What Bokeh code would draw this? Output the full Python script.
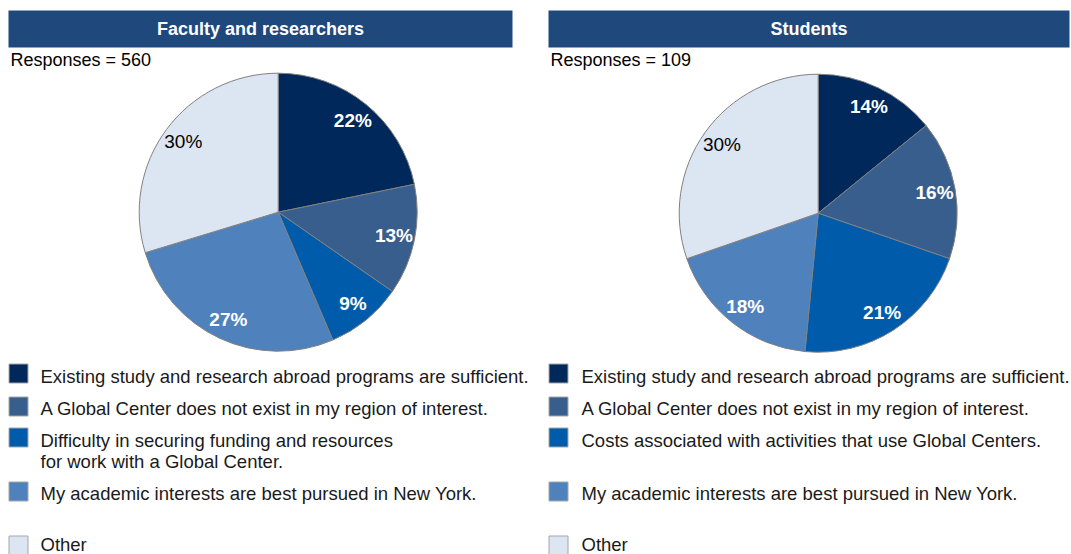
import math
from bokeh.plotting import figure
from bokeh.models import Range1d, ColumnDataSource
from bokeh.core.properties import value
from bokeh.embed import file_html
from bokeh.resources import INLINE

# ---------------- data ----------------
panel_titles = ["Faculty and researchers", "Students"]
responses = [560, 109]
faculty_values = [22, 13, 9, 27, 30]
student_values = [14, 16, 21, 18, 30]
faculty_labels = [
    "Existing study and research abroad programs are sufficient.",
    "A Global Center does not exist in my region of interest.",
    "Difficulty in securing funding and resources\nfor work with a Global Center.",
    "My academic interests are best pursued in New York.",
    "Other",
]
student_labels = [
    "Existing study and research abroad programs are sufficient.",
    "A Global Center does not exist in my region of interest.",
    "Costs associated with activities that use Global Centers.",
    "My academic interests are best pursued in New York.",
    "Other",
]
slice_colors = ["#00285A", "#385E8D", "#005CAA", "#4F81BD", "#DCE6F2"]

# ---------------- layout ----------------
W, H = 1071, 554
FONT = value("Liberation Sans")


def X(xs):
    return xs


def Y(ys):
    return H - ys


p = figure(width=W, height=H, output_backend="svg", toolbar_location=None,
           x_range=Range1d(0, W), y_range=Range1d(0, H), min_border=0)
p.axis.visible = False
p.grid.visible = False
p.outline_line_color = None
p.background_fill_color = "white"

panels = [
    dict(title=panel_titles[0], n=responses[0], vals=faculty_values, labels=faculty_labels,
         bar=(8, 512), cx=277.7, cy=211.7, lx=8, ltx=40,
         rows=[376, 408, 450, 493, 544], sq=[373, 406, 437, 491, 545]),
    dict(title=panel_titles[1], n=responses[1], vals=student_values, labels=student_labels,
         bar=(548, 1069), cx=817.7, cy=212.7, lx=548, ltx=581,
         rows=[376, 408, 440, 493, 544], sq=[373, 406, 437, 491, 545]),
]
R = 139
LR = 0.85 * R

for pn in panels:
    # header bar
    x0, x1 = pn["bar"]
    p.quad(left=[X(x0)], right=[X(x1)], top=[Y(10)], bottom=[Y(47)],
           fill_color="#1F497D", line_color=None)
    p.text(x=[X((x0 + x1) / 2)], y=[Y(28.5)], text=[pn["title"]], text_font=FONT,
           text_font_style="bold", text_font_size="18px", text_color="white",
           text_align="center", text_baseline="middle")
    p.text(x=[X(x0 + 2)], y=[Y(59)], text=[f"Responses = {pn['n']}"], text_font=FONT,
           text_font_size="18px", text_color="black", text_align="left",
           text_baseline="middle")

    vals = pn["vals"]
    tot = float(sum(vals))
    starts, ends, lx, ly = [], [], [], []
    cum = 0.0
    for v in vals:
        a0 = math.pi / 2 - 2 * math.pi * cum / tot
        a1 = math.pi / 2 - 2 * math.pi * (cum + v) / tot
        starts.append(a0)
        ends.append(a1)
        mid = (a0 + a1) / 2
        lx.append(X(pn["cx"]) + LR * math.cos(mid))
        ly.append(Y(pn["cy"]) + LR * math.sin(mid))
        cum += v
    src = ColumnDataSource(dict(start=starts, end=ends, color=slice_colors,
                                x=[X(pn["cx"])] * len(vals), y=[Y(pn["cy"])] * len(vals)))
    p.wedge(x="x", y="y", radius=R, start_angle="start", end_angle="end",
            direction="clock", fill_color="color", line_color="#808080",
            line_width=1, source=src)
    txt = [f"{v}%" for v in vals]
    p.text(x=lx[:4], y=ly[:4], text=txt[:4], text_font=FONT, text_font_style="bold",
           text_font_size="19px", text_color="white", text_align="center",
           text_baseline="middle")
    p.text(x=lx[4:], y=ly[4:], text=txt[4:], text_font=FONT,
           text_font_size="19px", text_color="black", text_align="center",
           text_baseline="middle")

    # legend
    sq_x = X(pn["lx"] + 10)
    p.rect(x=[sq_x] * 5, y=[Y(s) for s in pn["sq"]], width=19, height=19,
           fill_color=slice_colors, line_color="#A6A6A6", line_width=1)
    p.text(x=[X(pn["ltx"])] * 5, y=[Y(r) for r in pn["rows"]], text=pn["labels"],
           text_font=FONT, text_font_size="18.5px", text_color="#1a1a1a",
           text_align="left", text_baseline="middle", text_line_height=1.0)

open("out.html", "w").write(file_html(p, INLINE))
